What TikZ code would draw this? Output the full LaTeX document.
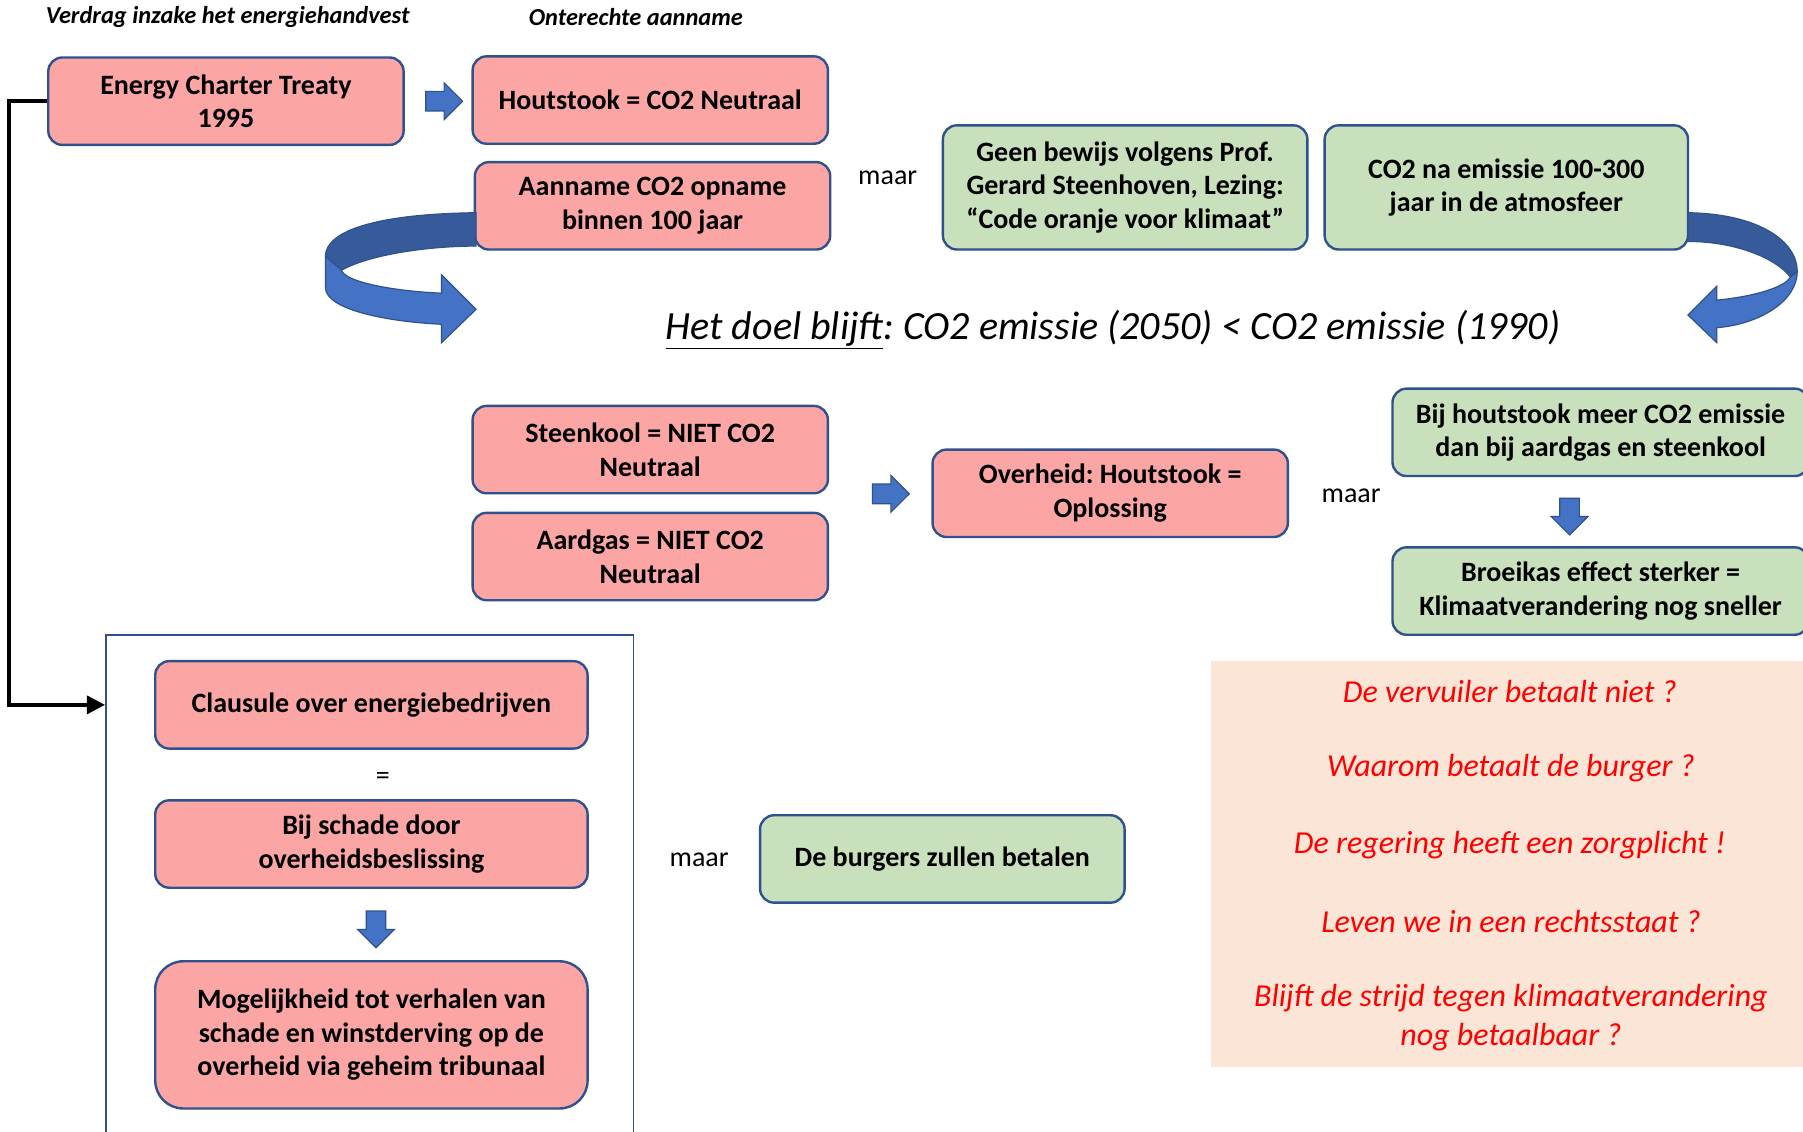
\documentclass[tikz,border=0pt]{standalone}
\usepackage{fontspec}
\setmainfont{Carlito}
\usetikzlibrary{shapes.arrows,arrows.meta}
\definecolor{bordblue}{RGB}{47,82,143}
\definecolor{pinkf}{RGB}{251,166,165}
\definecolor{greenf}{RGB}{201,224,188}
\definecolor{arrblue}{RGB}{68,114,196}
\definecolor{darkblue}{RGB}{55,90,155}
\definecolor{peach}{RGB}{251,229,214}
\def\unitpx{0.575pt}
\frenchspacing
\begin{document}
\begin{tikzpicture}[x=0.575pt,y=-0.575pt,
  box/.style={draw=bordblue, line width=1.2pt, rounded corners=7pt, align=center,
    font=\bfseries\fontsize{14}{16.8}\selectfont, inner sep=0pt},
  pinkbox/.style={box, fill=pinkf},
  greenbox/.style={box, fill=greenf},
  rarrow/.style={single arrow, draw=bordblue, fill=arrblue, line width=0.6pt,
    minimum height=32*\unitpx, inner xsep=0pt, inner ysep=8*\unitpx,
    single arrow head extend=7.5*\unitpx, text height=0pt, text depth=0pt},
  darrow/.style={rarrow, shape border rotate=270, inner xsep=8*\unitpx, inner ysep=0pt, text width=0pt},
  plain/.style={font=\fontsize{14}{16}\selectfont, inner sep=0pt},
  header/.style={font=\bfseries\itshape\fontsize{12.2}{14}\selectfont, inner sep=0pt},
  redq/.style={text=red, font=\itshape\fontsize{16}{19.5}\selectfont, align=center, inner sep=0pt},
  curvdark/.style={fill=darkblue, draw=bordblue, line width=0.6pt},
  curvlight/.style={fill=arrblue, draw=bordblue, line width=0.6pt}
]
\useasboundingbox (0,0) rectangle (1568,984);
\fill[white] (0,0) rectangle (1568,984);

% headers
\node[header] (h1) at (198,15) {Verdrag inzake het energiehandvest};
\node[header] (h2) at (553,15) {Onterechte aanname};

% top row
\node[pinkbox, minimum width=309*\unitpx, minimum height=76*\unitpx] (energy) at (196.5,88) {Energy Charter Treaty\\1995};
\node[pinkbox, minimum width=309*\unitpx, minimum height=76*\unitpx] (hout) at (565.5,87) {Houtstook = CO2 Neutraal};
\node[pinkbox, minimum width=309*\unitpx, minimum height=76*\unitpx] (aanname) at (567.5,179) {Aanname CO2 opname\\binnen 100 jaar};
\node[plain] (maar1) at (772,155) {maar};
\node[greenbox, minimum width=317*\unitpx, minimum height=108*\unitpx] (geen) at (978.5,163) {Geen bewijs volgens Prof.\\Gerard Steenhoven, Lezing:\\“Code oranje voor klimaat”};
\node[greenbox, minimum width=316*\unitpx, minimum height=108*\unitpx] (co2na) at (1310,163) {CO2 na emissie 100-300\\jaar in de atmosfeer};
\node[rarrow] (a1) at (382,88) {};

% curved arrows
\draw[curvdark] (414,185) .. controls (330,186) and (283,200) .. (283,223) -- (297,235)
  .. controls (320,222) and (370,214) .. (414,214) -- cycle;
\draw[curvlight] (283,223) -- (283,250) .. controls (283,270) and (340,280) .. (384,282)
  -- (384,298) -- (414,269) -- (384,239) -- (384,255)
  .. controls (340,253) and (300,245) .. (297,235) -- cycle;
\draw[curvdark] (1468,185) .. controls (1530,186) and (1563,210) .. (1563,236) -- (1557,241)
  .. controls (1545,225) and (1510,210) .. (1468,210) -- cycle;
\draw[curvlight] (1563,236) .. controls (1563,262) and (1530,282) .. (1493,285)
  -- (1493,298) -- (1468,274) -- (1493,249) -- (1493,261)
  .. controls (1525,258) and (1552,250) .. (1557,241) -- cycle;

% title
\node[inner sep=0pt, font=\itshape\fontsize{20}{24}\selectfont] (title) at (968,287) {\underline{Het doel blijft}: CO2 emissie (2050) < CO2 emissie (1990)};

% middle row
\node[pinkbox, minimum width=309*\unitpx, minimum height=76*\unitpx] (steen) at (565.5,391) {Steenkool = NIET CO2\\Neutraal};
\node[pinkbox, minimum width=309*\unitpx, minimum height=76*\unitpx] (aard) at (565.5,484) {Aardgas = NIET CO2\\Neutraal};
\node[rarrow] (a2) at (770.5,429.5) {};
\node[pinkbox, minimum width=309*\unitpx, minimum height=76*\unitpx] (overheid) at (965.5,429) {Overheid: Houtstook =\\Oplossing};
\node[plain] (maar2) at (1175,431) {maar};
\node[greenbox, minimum width=362*\unitpx, minimum height=76*\unitpx] (bijhout) at (1392,376) {Bij houtstook meer CO2 emissie\\dan bij aardgas en steenkool};
\node[darrow] (a3) at (1365,445) {};
\node[greenbox, minimum width=362*\unitpx, minimum height=76*\unitpx] (broei) at (1392,514) {Broeikas effect sterker =\\Klimaatverandering nog sneller};

% bottom left frame
\node[draw=bordblue, line width=0.8pt, fill=white, minimum width=459*\unitpx, minimum height=458*\unitpx, inner sep=0pt] (outer) at (321.5,781) {};
\node[pinkbox, minimum width=376*\unitpx, minimum height=76*\unitpx] (claus) at (323,613) {Clausule over energiebedrijven};
\node[plain] (eq) at (333,677) {=};
\node[pinkbox, minimum width=376*\unitpx, minimum height=76*\unitpx] (bijschade) at (323,734) {Bij schade door\\overheidsbeslissing};
\node[darrow] (a4) at (327,804) {};
\node[pinkbox, rounded corners=14pt, minimum width=376*\unitpx, minimum height=128*\unitpx] (mogelijk) at (323,900) {Mogelijkheid tot verhalen van\\schade en winstderving op de\\overheid via geheim tribunaal};

\node[plain] (maar3) at (608,748) {maar};
\node[greenbox, minimum width=317*\unitpx, minimum height=76*\unitpx] (burgers) at (819.5,747) {De burgers zullen betalen};

% black connector
\draw[line width=1.7pt, -{Triangle[length=9pt,width=9pt]}] (energy.west) -- ++(-33,0) |- (claus -| outer.west);

% peach panel
\node[fill=peach, minimum width=527*\unitpx, minimum height=353*\unitpx, inner sep=0pt] (panel) at (1316.5,751.5) {};
\node[redq] (q1) at (1313,601) {De vervuiler betaalt niet ?};
\node[redq] (q2) at (1314,668) {Waarom betaalt de burger ?};
\node[redq] (q3) at (1313,735) {De regering heeft een zorgplicht !};
\node[redq] (q4) at (1314,801) {Leven we in een rechtsstaat ?};
\node[redq] (q5) at (1314,885) {Blijft de strijd tegen klimaatverandering\\nog betaalbaar ?};
\end{tikzpicture}
\end{document}
